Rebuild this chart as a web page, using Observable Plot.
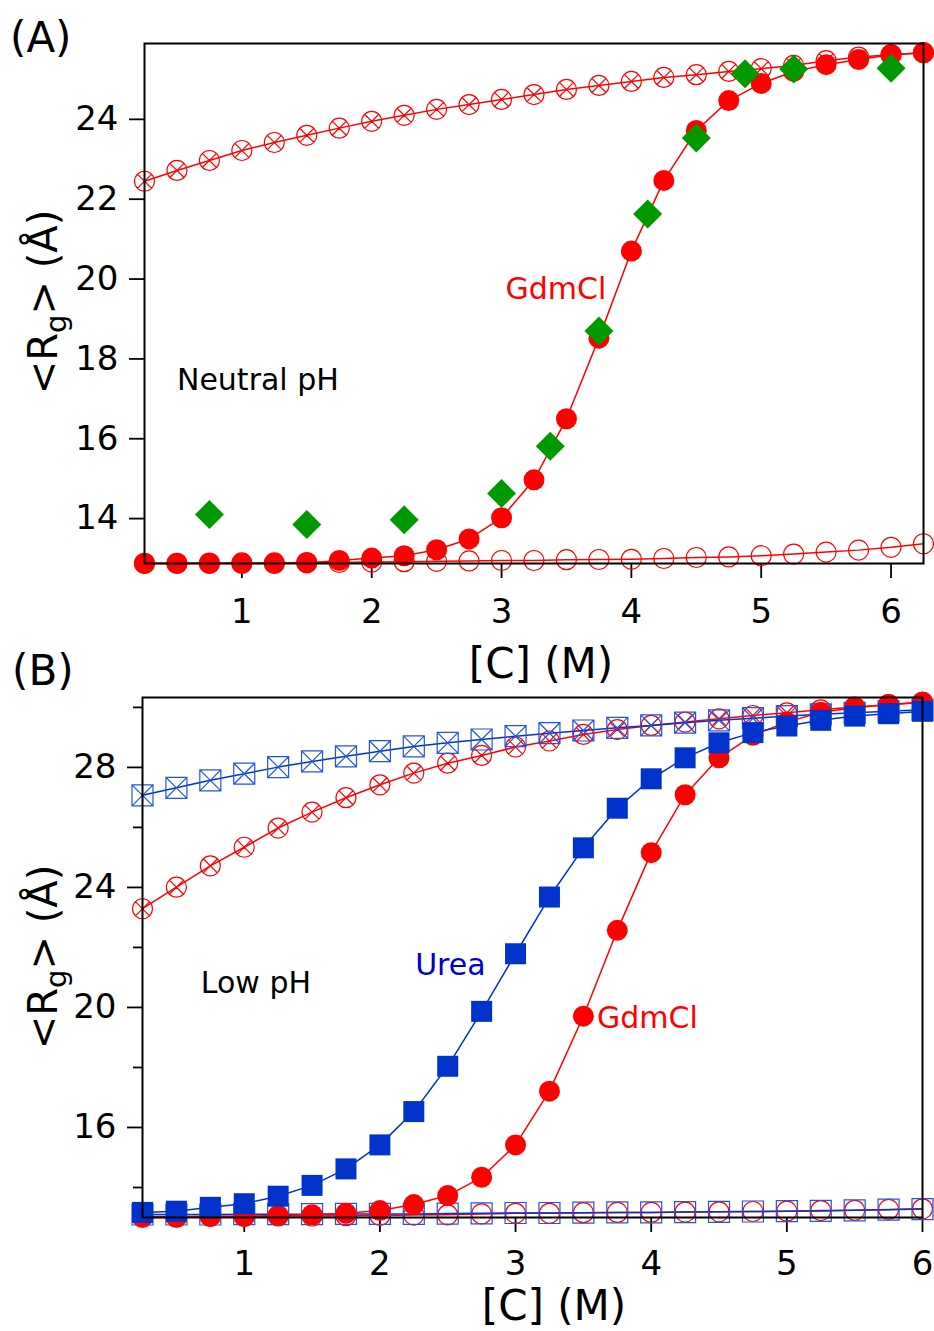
<!DOCTYPE html>
<html><head><meta charset="utf-8">
<script src="https://cdn.jsdelivr.net/npm/d3@7"></script>
<script src="https://cdn.jsdelivr.net/npm/@observablehq/plot@0.6"></script>
<style>
html,body{margin:0;padding:0;background:#fff;}
#wrap{position:relative;width:934px;height:1331px;overflow:hidden;}
#pa,#pb{position:absolute;left:0;}
#pa{top:0px;}
#pb{top:640px;}
svg{overflow:visible;}
</style></head>
<body><div id="wrap"><div id="pb"></div><div id="pa"></div></div>
<script>
// ---------- Panel A (neutral pH) ----------
const concA = [0.25,0.5,0.75,1.0,1.25,1.5,1.75,2.0,2.25,2.5,2.75,3.0,3.25,3.5,3.75,4.0,4.25,4.5,4.75,5.0,5.25,5.5,5.75,6.0,6.25];
const gdmNativeA = [12.88,12.88,12.885,12.89,12.89,12.9,12.9,12.91,12.92,12.93,12.94,12.95,12.95,12.97,12.975,12.98,13.0,13.025,13.04,13.07,13.11,13.16,13.21,13.28,13.37];
const gdmUnfoldedA = [22.45,22.72,22.97,23.22,23.42,23.6,23.78,23.95,24.1,24.25,24.37,24.5,24.62,24.75,24.85,24.95,25.05,25.12,25.2,25.27,25.35,25.47,25.56,25.62,25.67];
const gdmA = [12.875,12.875,12.875,12.875,12.875,12.89,12.95,13.01,13.07,13.22,13.49,14.02,14.97,16.5,18.52,20.7,22.47,23.72,24.47,24.9,25.2,25.37,25.5,25.62,25.67];
const concExpA = [0.75,1.5,2.25,3.0,3.375,3.75,4.125,4.5,4.875,5.25,6.0];
const expA = [14.1,13.85,13.97,14.63,15.81,18.7,21.63,23.53,25.14,25.26,25.28];
const xTicksA = [1,2,3,4,5,6];
const yTicksA = [14,16,18,20,22,24];

// ---------- Panel B (low pH) ----------
const concB = [0.25,0.5,0.75,1.0,1.25,1.5,1.75,2.0,2.25,2.5,2.75,3.0,3.25,3.5,3.75,4.0,4.25,4.5,4.75,5.0,5.25,5.5,5.75,6.0];
const ureaB = [13.17,13.21,13.34,13.46,13.71,14.07,14.62,15.42,16.53,18.04,19.87,21.79,23.68,25.32,26.64,27.62,28.32,28.82,29.16,29.38,29.57,29.71,29.79,29.87];
const gdmB = [13.0,13.0,13.03,13.03,13.07,13.09,13.14,13.23,13.43,13.73,14.34,15.42,17.21,19.71,22.57,25.16,27.09,28.32,29.07,29.51,29.84,29.99,30.1,30.18];
const gdmUnfoldedB = [23.29,24.01,24.72,25.34,25.98,26.51,26.99,27.42,27.81,28.14,28.4,28.68,28.88,29.1,29.26,29.4,29.51,29.62,29.73,29.82,29.92,30.01,30.09,30.16];
const ureaUnfoldedB = [27.07,27.32,27.57,27.79,28.01,28.2,28.37,28.54,28.7,28.82,28.93,29.04,29.14,29.23,29.32,29.4,29.49,29.57,29.64,29.71,29.77,29.82,29.87,29.92];
const gdmNativeB = [13.03,13.03,13.04,13.04,13.05,13.05,13.06,13.07,13.08,13.09,13.12,13.14,13.14,13.16,13.17,13.17,13.18,13.19,13.2,13.21,13.23,13.24,13.27,13.29];
const ureaNativeB = [13.1,13.1,13.1,13.11,13.11,13.11,13.12,13.12,13.12,13.13,13.14,13.15,13.15,13.16,13.17,13.17,13.18,13.19,13.2,13.21,13.22,13.24,13.26,13.28];
const xTicksB = [1,2,3,4,5,6];
const yTicksB = [16,20,24,28];
const yMinorTicksB = [14,18,22,26,30];

// ---------- styles ----------
const FONT = "DejaVu Sans";
const RED = "#ff0000", GREEN = "#009900", BLUE = "#0033cc", BLUE_OPEN = "#2255dd", BLUE_TEXT = "#0000cc";

// custom marker symbols (size = r*r*PI)
const rad = s => Math.sqrt(s / Math.PI);
const circleX = {draw(c, s){ const r = rad(s), k = r*Math.SQRT1_2; c.moveTo(r,0); c.arc(0,0,r,0,2*Math.PI); c.moveTo(-k,-k); c.lineTo(k,k); c.moveTo(-k,k); c.lineTo(k,-k); }};
const squareX = {draw(c, s){ const r = rad(s); c.rect(-r,-r,2*r,2*r); c.moveTo(-r,-r); c.lineTo(r,r); c.moveTo(-r,r); c.lineTo(r,-r); }};
const squareS = {draw(c, s){ const r = rad(s); c.rect(-r,-r,2*r,2*r); }};
const diamondS = {draw(c, s){ const r = rad(s); c.moveTo(0,-r); c.lineTo(r,0); c.lineTo(0,r); c.lineTo(-r,0); c.closePath(); }};

function addTitles(svg, o){
  const s = d3.select(svg);
  s.append("text").attr("x", o.labX).attr("y", o.labY).attr("text-anchor","start").attr("font-size", 42).attr("font-family", FONT).attr("fill","black").text(o.label);
  s.append("text").attr("x", o.xtX).attr("y", o.xtY).attr("text-anchor","middle").attr("font-size", 42).attr("font-family", FONT).attr("fill","black").text("[C] (M)");
  const t = s.append("text").attr("transform", `translate(${o.ytX},${o.ytY}) rotate(-90)`).attr("text-anchor","middle").attr("font-size", 40).attr("font-family", FONT).attr("fill","black");
  t.append("tspan").text("<R");
  t.append("tspan").attr("font-size", 29).attr("dy", 9).text("g");
  t.append("tspan").attr("dy", -9).text("> (\u00C5)");
}

// ---------- Chart A ----------
const chartA = Plot.plot({
  width: 934, height: 690,
  marginLeft: 144, marginRight: 11, marginTop: 43, marginBottom: 127,
  x: {domain: [0.25, 6.25]},
  y: {domain: [12.875, 25.9]},
  style: {fontFamily: FONT, background: "transparent", color: "black", overflow: "visible"},
  marks: [
    Plot.axisX({ticks: xTicksA, tickFormat: "d", tickSize: 15, tickPadding: 20, fontSize: 34, strokeWidth: 1.8, label: null}),
    Plot.axisY({ticks: yTicksA, tickFormat: "d", tickSize: 15, tickPadding: 11, fontSize: 34, strokeWidth: 1.8, label: null}),
    Plot.line(concA, {x: concA, y: gdmNativeA, stroke: RED, strokeWidth: 1.5}),
    Plot.dot(concA, {x: concA, y: gdmNativeA, r: 10, symbol: "circle", stroke: RED, fill: "none", strokeWidth: 1.2}),
    Plot.line(concA, {x: concA, y: gdmUnfoldedA, stroke: RED, strokeWidth: 1.5}),
    Plot.dot(concA, {x: concA, y: gdmUnfoldedA, r: 10, symbol: circleX, stroke: RED, fill: "none", strokeWidth: 1.2}),
    Plot.line(concA, {x: concA, y: gdmA, stroke: RED, strokeWidth: 1.5}),
    Plot.dot(concA, {x: concA, y: gdmA, r: 10.5, symbol: "circle", fill: RED, stroke: "none"}),
    Plot.dot(concExpA, {x: concExpA, y: expA, r: 14.5, symbol: diamondS, fill: GREEN, stroke: "none"}),
    Plot.text(["GdmCl"], {x: 3.03, y: 19.5, text: d => d, textAnchor: "start", lineAnchor: "bottom", fill: RED, fontSize: 30}),
    Plot.text(["Neutral pH"], {x: 0.5, y: 17.22, text: d => d, textAnchor: "start", lineAnchor: "bottom", fill: "black", fontSize: 30}),
    Plot.frame({stroke: "black", strokeWidth: 2})
  ]
});
addTitles(chartA, {label: "(A)", labX: 10, labY: 52, xtX: 541, xtY: 678, ytX: 57, ytY: 302});
document.getElementById("pa").append(chartA);

// ---------- Chart B ----------
const chartB = Plot.plot({
  width: 934, height: 691,
  marginLeft: 142, marginRight: 12, marginTop: 57, marginBottom: 114,
  x: {domain: [0.25, 6.0]},
  y: {domain: [13, 30.33]},
  style: {fontFamily: FONT, background: "transparent", color: "black", overflow: "visible"},
  marks: [
    Plot.axisX({ticks: xTicksB, tickFormat: "d", tickSize: 15, tickPadding: 18, fontSize: 34, strokeWidth: 1.8, label: null}),
    Plot.axisY({ticks: yTicksB, tickFormat: "d", tickSize: 15, tickPadding: 11, fontSize: 34, strokeWidth: 1.8, label: null}),
    Plot.axisY({ticks: yMinorTicksB, tickSize: 9, tickFormat: () => "", strokeWidth: 1.8, label: null}),
    Plot.line(concB, {x: concB, y: gdmNativeB, stroke: RED, strokeWidth: 1.5}),
    Plot.dot(concB, {x: concB, y: gdmNativeB, r: 10, symbol: "circle", stroke: RED, fill: "none", strokeWidth: 1.2}),
    Plot.line(concB, {x: concB, y: ureaNativeB, stroke: BLUE, strokeWidth: 1.5}),
    Plot.dot(concB, {x: concB, y: ureaNativeB, r: 10.5, symbol: squareS, stroke: BLUE_OPEN, fill: "none", strokeWidth: 1.2}),
    Plot.line(concB, {x: concB, y: gdmUnfoldedB, stroke: RED, strokeWidth: 1.5}),
    Plot.dot(concB, {x: concB, y: gdmUnfoldedB, r: 10, symbol: circleX, stroke: RED, fill: "none", strokeWidth: 1.2}),
    Plot.line(concB, {x: concB, y: ureaUnfoldedB, stroke: BLUE, strokeWidth: 1.5}),
    Plot.dot(concB, {x: concB, y: ureaUnfoldedB, r: 10.5, symbol: squareX, stroke: BLUE_OPEN, fill: "none", strokeWidth: 1.2}),
    Plot.line(concB, {x: concB, y: gdmB, stroke: RED, strokeWidth: 1.5}),
    Plot.dot(concB, {x: concB, y: gdmB, r: 10.5, symbol: "circle", fill: RED, stroke: "none"}),
    Plot.line(concB, {x: concB, y: ureaB, stroke: BLUE, strokeWidth: 1.5}),
    Plot.dot(concB, {x: concB, y: ureaB, r: 10.5, symbol: squareS, fill: BLUE, stroke: "none"}),
    Plot.text(["Urea"], {x: 2.26, y: 21.07, text: d => d, textAnchor: "start", lineAnchor: "bottom", fill: BLUE_TEXT, fontSize: 30}),
    Plot.text(["GdmCl"], {x: 3.60, y: 19.3, text: d => d, textAnchor: "start", lineAnchor: "bottom", fill: RED, fontSize: 30}),
    Plot.text(["Low pH"], {x: 0.68, y: 20.47, text: d => d, textAnchor: "start", lineAnchor: "bottom", fill: "black", fontSize: 30}),
    Plot.frame({stroke: "black", strokeWidth: 2})
  ]
});
addTitles(chartB, {label: "(B)", labX: 12, labY: 685 - 640, xtX: 554, xtY: 1320 - 640, ytX: 57, ytY: 957 - 640});
document.getElementById("pb").append(chartB);
</script>
</body></html>
